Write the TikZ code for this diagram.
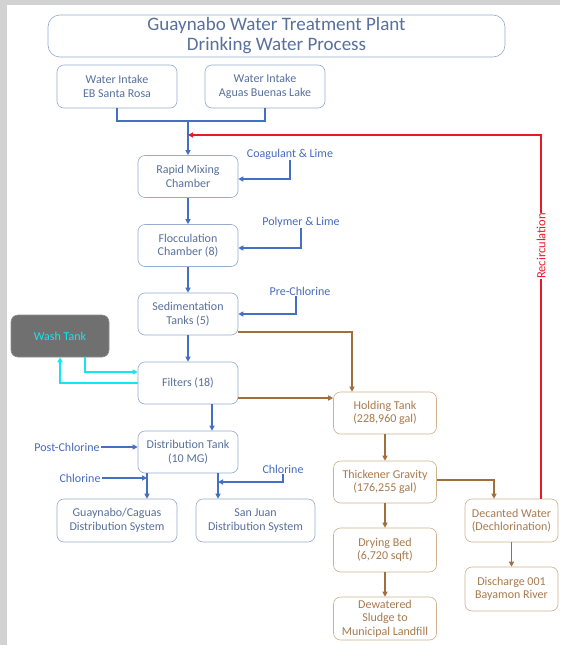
\documentclass[tikz,border=0pt]{standalone}
\usepackage{fontspec}
\setmainfont{Carlito}
\usepackage{xcolor}
\usetikzlibrary{arrows.meta,calc}

\definecolor{boxblue}{RGB}{150,172,205}
\definecolor{txtblue}{RGB}{88,112,155}
\definecolor{lblblue}{RGB}{70,108,190}
\definecolor{arrblue}{RGB}{68,112,196}
\definecolor{boxbrown}{RGB}{205,178,140}
\definecolor{txtbrown}{RGB}{168,122,78}
\definecolor{arrbrown}{RGB}{160,112,60}
\definecolor{recred}{RGB}{235,25,40}
\definecolor{washcyan}{RGB}{20,230,240}
\definecolor{washgray}{RGB}{112,112,112}
\definecolor{framegray}{RGB}{210,210,210}

\begin{document}
\begin{tikzpicture}[
		x=1pt,y=-1pt,
		font=\fontsize{12}{13.5}\selectfont,
		blk/.style={draw=boxblue,rounded corners=7pt,text=txtblue,align=center,minimum width=100pt,minimum height=42pt,inner sep=1pt,line width=0.6pt},
		slg/.style={blk,draw=boxbrown,text=txtbrown,minimum width=103pt},
		lbl/.style={text=lblblue,inner sep=1pt},
		pipe/.style={color=arrblue,draw=arrblue,line width=1.1pt},
		flow/.style={pipe,-{Triangle[length=5pt,width=5pt]}},
		sflow/.style={flow,color=arrbrown,draw=arrbrown},
		cflow/.style={flow,color=washcyan,draw=washcyan},
		rflow/.style={flow,color=recred,draw=recred}
		]
		\fill[framegray] (0,0) rectangle (560,645);
		\fill[white] (7,5) rectangle (560,645);
		\useasboundingbox (0,0) rectangle (560,645);

		\node[blk,rounded corners=12pt,minimum width=457pt,font=\fontsize{19}{20}\selectfont] (title) at (276.5,36) {Guaynabo Water Treatment Plant\\Drinking Water Process};
		\node[blk,minimum width=120pt,minimum height=43pt] (in1) at (117,86.5) {Water Intake\\EB Santa Rosa};
		\node[blk,minimum width=120pt,minimum height=43pt] (in2) at (265,86.5) {Water Intake\\Aguas Buenas Lake};
		\node[blk] (rapid) at (188,176.5) {Rapid Mixing\\Chamber};
		\node[blk] (flocc) at (188,245.5) {Flocculation\\Chamber (8)};
		\node[blk] (sed) at (188,314) {Sedimentation\\Tanks (5)};
		\node[blk] (filt) at (188,383) {Filters (18)};
		\node[blk] (dist) at (188,452) {Distribution Tank\\(10 MG)};
		\node[blk,fill=washgray,draw=washgray!80,text=washcyan,minimum width=98pt] (wash) at (60,336) {Wash Tank};
		\node[blk,minimum width=120pt,minimum height=43pt] (guay) at (117,520.5) {Guaynabo/Caguas\\Distribution System};
		\node[blk,minimum width=119pt,minimum height=43pt] (sanj) at (255.5,520.5) {San Juan\\Distribution System};

		\node[slg] (hold) at (385,413) {Holding Tank\\(228,960 gal)};
		\node[slg] (thick) at (385,482) {Thickener Gravity\\(176,255 gal)};
		\node[slg,minimum height=44pt] (dry) at (385,550) {Drying Bed\\(6,720 sqft)};
		\node[slg,minimum height=43pt] (dew) at (385,618.5) {Dewatered\\Sludge to\\Municipal Landfill};
		\node[slg,minimum width=93pt,minimum height=43pt] (dec) at (511.5,520.5) {Decanted Water\\(Dechlorination)};
		\node[slg,minimum width=93pt,minimum height=44pt] (dis) at (511.5,589) {Discharge 001\\Bayamon River};

		\node[lbl] (coag) at (290,154) {Coagulant \& Lime};
		\node[lbl] (poly) at (301,222) {Polymer \& Lime};
		\node[lbl] (pre) at (300,291) {Pre-Chlorine};
		\node[lbl] (post) at (67,447) {Post-Chlorine};
		\node[lbl] (chl1) at (80,478) {Chlorine};
		\node[lbl] (chl2) at (283,469) {Chlorine};

		\coordinate (jn) at (188,121);
		\coordinate (rc) at (541,135);
		\coordinate (sh) at (352,0);
		\coordinate (dg) at (147,0);
		\coordinate (ds) at (218,482);
		\coordinate (td) at (494,0);

		\draw[pipe] (in1.south) |- (jn) -| (in2.south);
		\draw[flow] (jn) -- (rapid.north);
		\draw[flow] (coag.south) |- ([yshift=-2.5pt]rapid.east);
		\draw[flow] (rapid) -- (flocc);
		\draw[flow] (poly.south) |- ([yshift=-2.5pt]flocc.east);
		\draw[flow] (flocc) -- (sed);
		\draw[flow] ([xshift=-4pt]pre.south) |- (sed.east);
		\draw[flow] (sed) -- (filt);
		\draw[flow] ([xshift=24pt]filt.south) -- ([xshift=24pt]filt.south |- dist.north);
		\draw[flow] (post.east) -- (post.east -| dist.west);
		\draw[flow] (dist.south -| dg) -- (guay.north -| dg);
		\draw[flow] (chl1.east) -- (chl1.east -| dg);
		\draw[flow] (dist.south -| ds) -- (sanj.north -| ds);
		\draw[flow] (chl2.south) |- (ds);

		\draw[cflow] ([xshift=25pt]wash.south) |- ([yshift=11pt]filt.west);
		\draw[cflow] (filt.west) -| (wash.south);

		\draw[sflow] ([yshift=-18pt]sed.east) -| (hold.north -| sh);
		\draw[sflow] ([yshift=-15pt]filt.east) -- ([yshift=-15pt]filt.east -| hold.west);
		\draw[sflow] (hold) -- (thick);
		\draw[sflow] (thick) -- (dry);
		\draw[sflow] (dry) -- (dew);
		\draw[sflow] ([yshift=2pt]thick.east) -| (dec.north -| td);
		\draw[sflow] (dec) -- (dis);

		\draw[rflow] (dec.north -| rc) -- (rc) -- (rc -| jn);
		\node[rotate=90,fill=white,text=recred,inner sep=0.5pt,font=\fontsize{12.5}{14}\selectfont] (recirc) at (541,246) {Recirculation};
	\end{tikzpicture}
\end{document}
